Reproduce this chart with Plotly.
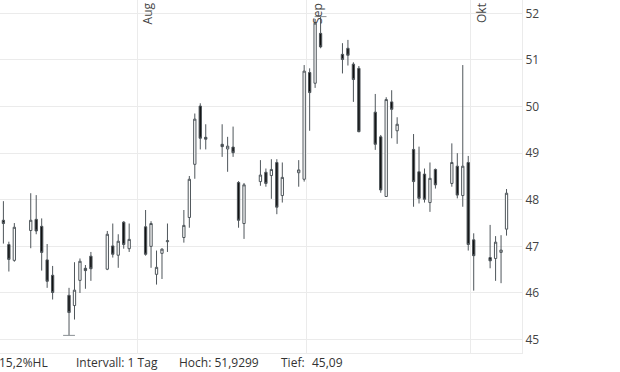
import plotly.graph_objects as go
import pandas as pd

# ---- data ----
dates = [
    "2021-07-07", "2021-07-08", "2021-07-09",
    "2021-07-12", "2021-07-13", "2021-07-14", "2021-07-15", "2021-07-16",
    "2021-07-19", "2021-07-20", "2021-07-21", "2021-07-22", "2021-07-23",
    "2021-07-26", "2021-07-27", "2021-07-28", "2021-07-29", "2021-07-30",
    "2021-08-02", "2021-08-03", "2021-08-04", "2021-08-05", "2021-08-06",
    "2021-08-09", "2021-08-10", "2021-08-11", "2021-08-12", "2021-08-13",
    "2021-08-16", "2021-08-17", "2021-08-18", "2021-08-19", "2021-08-20",
    "2021-08-23", "2021-08-24", "2021-08-25", "2021-08-26", "2021-08-27",
    "2021-08-30", "2021-08-31", "2021-09-01", "2021-09-02", "2021-09-03",
    "2021-09-07", "2021-09-08", "2021-09-09", "2021-09-10",
    "2021-09-13", "2021-09-14", "2021-09-15", "2021-09-16", "2021-09-17",
    "2021-09-20", "2021-09-21", "2021-09-22", "2021-09-23", "2021-09-24",
    "2021-09-27", "2021-09-28", "2021-09-29", "2021-09-30", "2021-10-01",
    "2021-10-04", "2021-10-05", "2021-10-06", "2021-10-07",
]
open_ = [
    47.56, 47.04, 46.70,
    47.34, 47.58, 47.43, 46.71, 46.38,
    45.95, 45.73, 46.27, 46.53, 46.79,
    46.51, 47.01, 46.81, 47.52, 46.95,
    47.42, 47.00, 46.40, 46.85, 47.10,
    47.19, 47.62, 48.76, 50.01, 49.34,
    49.19, 49.09, 49.13, 48.37, 47.49,
    48.39, 48.59, 48.52, 48.80, 48.09,
    48.58, 48.44, 50.73, 50.50, 51.57,
    51.12, 51.25, 50.91, 50.82,
    49.88, 49.35, 48.07, 50.10, 49.48,
    49.08, 48.60, 48.55, 47.94, 48.65,
    48.35, 48.72, 48.09, 48.80, 47.14,
    46.76, 46.74, 46.87, 47.37,
]
high = [
    47.97, 47.10, 47.50,
    48.14, 48.10, 47.60, 47.05, 46.58,
    46.11, 46.66, 46.74, 46.60, 46.88,
    47.33, 47.49, 47.26, 47.54, 47.49,
    47.78, 47.54, 46.91, 46.96, 47.49,
    47.78, 48.51, 49.85, 50.07, 49.62,
    49.62, 49.35, 49.57, 48.40, 48.36,
    48.85, 48.67, 48.87, 48.87, 48.80,
    48.85, 50.89, 50.82, 51.88, 51.9299,
    51.36, 51.43, 50.95, 50.87,
    50.27, 49.39, 50.20, 50.35, 49.77,
    49.41, 49.14, 48.67, 48.80, 48.67,
    49.21, 49.00, 50.89, 48.94, 47.28,
    47.46, 47.22, 47.24, 48.23,
]
low = [
    47.06, 46.46, 46.67,
    46.96, 47.26, 46.48, 46.11, 45.86,
    45.09, 45.43, 46.00, 46.09, 46.26,
    46.49, 46.76, 46.54, 46.95, 46.88,
    46.80, 46.54, 46.18, 46.30, 46.88,
    47.08, 47.40, 48.45, 49.08, 49.08,
    48.92, 48.60, 48.92, 47.40, 47.16,
    48.30, 48.28, 48.02, 47.69, 47.94,
    48.28, 48.39, 49.48, 50.40, 51.25,
    50.71, 50.88, 50.10, 49.45,
    49.07, 48.15, 48.06, 49.32, 49.20,
    47.85, 47.92, 47.94, 47.74, 48.24,
    48.28, 48.03, 47.85, 46.91, 46.05,
    46.53, 46.26, 46.21, 47.23,
]
close = [
    47.49, 46.72, 47.41,
    47.56, 47.33, 46.87, 46.25, 46.01,
    45.58, 46.06, 46.68, 46.48, 46.52,
    47.26, 46.83, 47.11, 47.04, 47.15,
    46.83, 47.49, 46.55, 46.94, 47.12,
    47.45, 48.44, 49.73, 49.32, 49.30,
    49.14, 49.15, 49.01, 47.56, 48.32,
    48.53, 48.35, 48.65, 47.84, 48.48,
    48.64, 50.76, 50.30, 51.79, 51.28,
    51.01, 51.10, 50.58, 49.46,
    49.19, 48.21, 50.15, 49.94, 49.62,
    48.39, 48.03, 48.01, 48.46, 48.32,
    48.80, 48.10, 48.72, 47.04, 46.80,
    46.69, 47.09, 46.92, 48.14,
]
month_ticks = ["2021-08-01", "2021-09-01", "2021-10-01"]
month_labels = ["Aug", "Sep", "Okt"]
y_ticks = [45, 46, 47, 48, 49, 50, 51, 52]
interval_text = "Intervall: 1 Tag"

# ---- figure ----
x = pd.to_datetime(dates) + pd.Timedelta(hours=12)

LINE = "#4f565b"
GRID = "#ebebeb"
FONT = "Open Sans"

fig = go.Figure()
fig.add_trace(go.Candlestick(
    x=x, open=open_, high=high, low=low, close=close,
    increasing=dict(line=dict(color=LINE, width=1), fillcolor="#ffffff"),
    decreasing=dict(line=dict(color=LINE, width=1), fillcolor="#111111"),
    whiskerwidth=0,
    showlegend=False,
    hoverinfo="skip",
))

# high / low markers
hi = max(high)
lo = min(low)
ih = high.index(hi)
il = low.index(lo)
half = pd.Timedelta(hours=26)
for i, v in ((ih, hi), (il, lo)):
    fig.add_shape(type="line", xref="x", yref="y",
                  x0=x[i] - half, x1=x[i] + half, y0=v, y1=v,
                  line=dict(color="#8a9094", width=1))

# month labels
for d, lab in zip(month_ticks, month_labels):
    fig.add_annotation(x=pd.Timestamp(d), xref="x", xshift=10.0,
                       y=1 - 13.0 / 352.7, yref="paper",
                       text=lab, textangle=-90, showarrow=False,
                       xanchor="center", yanchor="middle",
                       font=dict(family=FONT, size=12, color="#444444"))

# bottom info texts
def de(v, nd):
    return f"{v:.{nd}f}".replace(".", ",")

hl = (hi - lo) / lo * 100
pw = 521.7
ph = 352.7
yb = -(362 - ph) / ph
bottom = [
    (-2.5, de(hl, 1) + "%HL"),
    (73.5, interval_text),
    (177, "Hoch: " + de(hi, 4)),
    (278.5, "Tief:"),
    (309.5, de(lo, 2)),
]
for px_, t in bottom:
    fig.add_annotation(x=px_ / pw, xref="paper", y=yb, yref="paper",
                       text=t, showarrow=False, xanchor="left", yanchor="middle",
                       font=dict(family=FONT, size=12, color="#333333"))

fig.update_layout(
    width=620, height=372,
    margin=dict(l=0, r=620 - 521.7, t=0, b=372 - 352.7),
    paper_bgcolor="white", plot_bgcolor="white",
    font=dict(family=FONT, size=12, color="#444444"),
    boxgap=0.4,
    xaxis=dict(
        type="date",
        range=["2021-07-06 21:06", "2021-10-10 07:55"],
        rangeslider=dict(visible=False),
        tickvals=[pd.Timestamp(d) for d in month_ticks],
        showticklabels=False,
        showgrid=True, gridcolor=GRID, gridwidth=1,
        showline=True, linecolor=GRID, linewidth=1,
        zeroline=False, ticks="",
    ),
    yaxis=dict(
        side="right",
        range=[44.712, 52.286],
        tickvals=y_ticks,
        ticktext=[str(v) for v in y_ticks],
        showgrid=True, gridcolor=GRID, gridwidth=1,
        showline=True, linecolor=GRID, linewidth=1,
        zeroline=False, ticks="",
        tickfont=dict(family=FONT, size=12, color="#444444"),
    ),
)

fig.write_html(
    "out.html",
    config={"displayModeBar": False, "staticPlot": True},
    post_script="document.body.style.margin='0';document.body.style.overflow='hidden';",
)
